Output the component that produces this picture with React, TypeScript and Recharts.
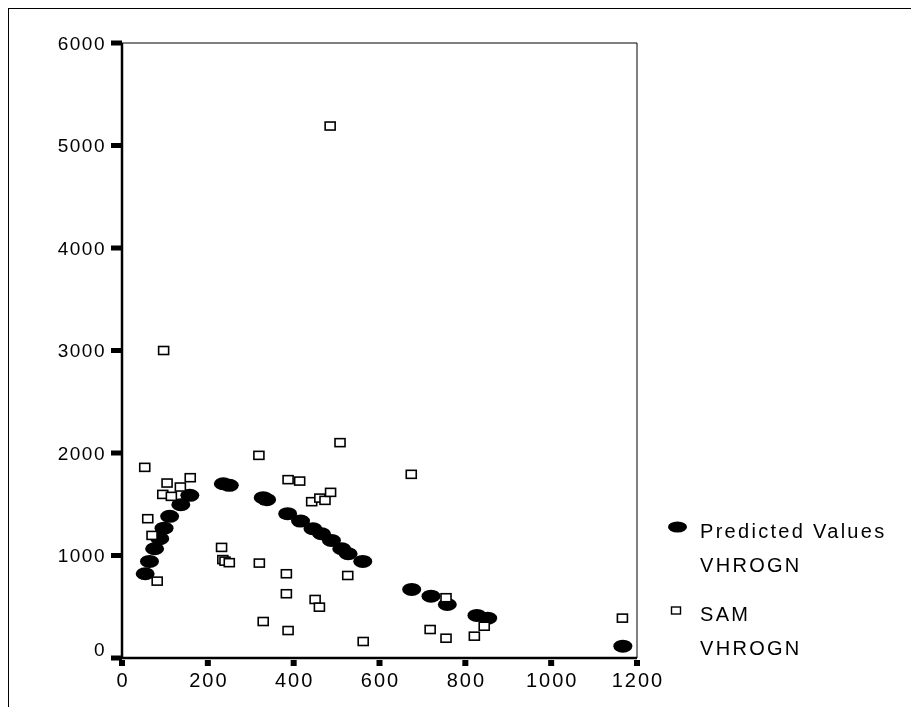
import React from 'react';
import { ScatterChart, Scatter, XAxis, YAxis, ReferenceLine } from 'recharts';

// predicted values (VHROGN)
const predX = [54, 64, 76, 88, 98, 111, 137, 158, 236, 250, 329, 337, 386, 416, 445, 465, 488, 512, 527, 561, 675, 720, 758, 827, 852, 1167];
const predY = [822, 942, 1066, 1164, 1267, 1382, 1496, 1587, 1700, 1685, 1564, 1545, 1408, 1336, 1261, 1212, 1147, 1066, 1017, 942, 669, 603, 522, 415, 389, 115];

// observed SAM VHROGN
const samX = [53, 105, 159, 136, 95, 115, 60, 70, 82, 97, 232, 235, 240, 250, 319, 320, 329, 387, 414, 442, 461, 473, 486, 508, 485, 383, 383, 387, 526, 450, 460, 562, 674, 718, 755, 844, 755, 821, 1166];
const samY = [1860, 1707, 1759, 1668, 1596, 1577, 1359, 1196, 750, 3000, 1079, 960, 945, 930, 1977, 926, 356, 1740, 1726, 1525, 1560, 1538, 1616, 2101, 5190, 822, 627, 268, 805, 571, 496, 161, 1792, 278, 588, 310, 193, 213, 389];

const xTicks = [0, 200, 400, 600, 800, 1000, 1200];
const yTicks = [0, 1000, 2000, 3000, 4000, 5000, 6000];

const predData = predX.map((x, i) => ({ x, y: predY[i] }));
const samData = samX.map((x, i) => ({ x, y: samY[i] }));

const FONT = '"Liberation Sans", Arial, sans-serif';

const YTick = (props: any) => {
    const { x, y, payload } = props;
    const dy = payload.value === 0 ? -9 : 0;
    return (
        <g>
            <rect x={x - 11} y={y - 2.5} width={11} height={5} fill="#000" />
            <text x={x - 16} y={y + dy} textAnchor="end" dominantBaseline="central"
                fontSize={19} letterSpacing={1.5} fill="#000" fontFamily={FONT}>
                {payload.value}
            </text>
        </g>
    );
};

const XTick = (props: any) => {
    const { x, y, payload } = props;
    return (
        <g>
            <rect x={x - 3} y={y + 2} width={6} height={6} fill="#000" />
            <text x={x + 1} y={y + 29} textAnchor="middle"
                fontSize={20} letterSpacing={2} fill="#000" fontFamily={FONT}>
                {payload.value}
            </text>
        </g>
    );
};

const Blob = (props: any) => <ellipse cx={props.cx} cy={props.cy} rx={9.5} ry={6.5} fill="#000" />;
const Box = (props: any) => (
    <rect x={props.cx - 5} y={props.cy - 4} width={10} height={8} fill="#fff" stroke="#000" strokeWidth={1.6} />
);

const Key = () => (
    <svg width={250} height={170} style={{ position: 'absolute', left: 650, top: 500 }}>
        <ellipse cx={19.5} cy={19} rx={9.5} ry={5.5} fill="#000" />
        <g fontFamily={FONT} fontSize={20} letterSpacing={2.3} fill="#000">
            <text x={42} y={29.7}>Predicted Values</text>
            <text x={42} y={63.7}>VHROGN</text>
            <text x={42} y={112.7}>SAM</text>
            <text x={42} y={147}>VHROGN</text>
        </g>
        <rect x={13.5} y={99} width={9} height={7} fill="#fff" stroke="#000" strokeWidth={1.4} />
    </svg>
);

export default function App() {
    return (
        <div style={{ position: 'relative', width: 895, height: 691, fontFamily: FONT }}>
            <div style={{
                position: 'fixed', left: 8, top: 8, width: 1000, height: 800,
                borderTop: '1px solid #000', borderLeft: '1px solid #000', pointerEvents: 'none',
            }} />
            <ScatterChart width={895} height={691} margin={{ top: 35, right: 266, bottom: 6, left: 54 }}>
                <XAxis type="number" dataKey="x" domain={[0, 1200]} ticks={xTicks} interval={0}
                    axisLine={{ stroke: '#000', strokeWidth: 2.5 }} tickLine={false}
                    tickSize={0} tickMargin={0} height={35} tick={<XTick />} />
                <YAxis type="number" dataKey="y" domain={[0, 6000]} ticks={yTicks} interval={0}
                    axisLine={{ stroke: '#000', strokeWidth: 2.5 }} tickLine={false}
                    tickSize={0} tickMargin={0} width={60} tick={<YTick />} />
                <ReferenceLine y={6000} stroke="#000" strokeWidth={1} />
                <ReferenceLine x={1200} stroke="#000" strokeWidth={1} />
                <Scatter name="Predicted Values VHROGN" data={predData} shape={<Blob />} isAnimationActive={false} />
                <Scatter name="SAM VHROGN" data={samData} shape={<Box />} isAnimationActive={false} />
            </ScatterChart>
            <Key />
        </div>
    );
}
